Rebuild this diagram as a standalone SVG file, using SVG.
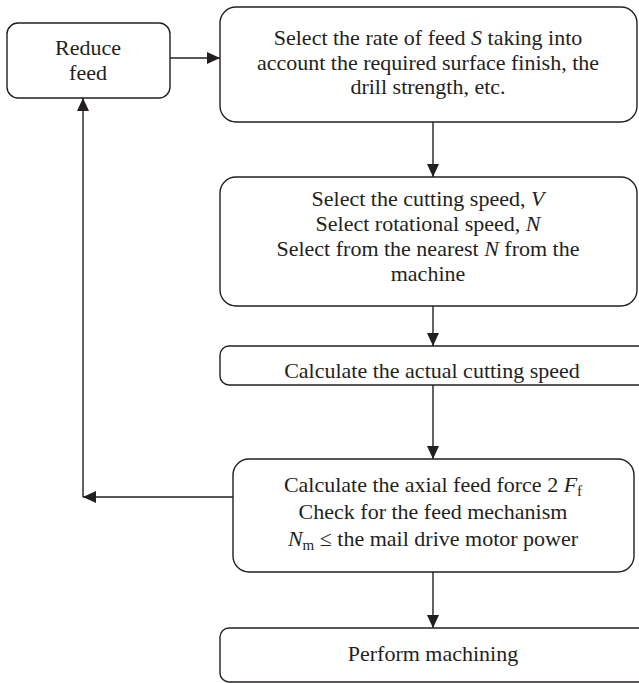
<svg xmlns="http://www.w3.org/2000/svg" width="639" height="683" viewBox="0 0 639 683">
<style>
.box{fill:#fff;stroke:#231f20;stroke-width:1.4}
.t{font-family:"Liberation Serif","Times New Roman",serif;font-size:22px;fill:#231f20;text-anchor:middle}
.i{font-style:italic}
.sub{font-size:15px}
.c{fill:none;stroke:#231f20;stroke-width:1.4}
</style>
<defs>
<marker id="ah" markerUnits="userSpaceOnUse" markerWidth="14" markerHeight="12" refX="13" refY="6" orient="auto">
<path d="M0,0 L13,6 L0,12 Z" fill="#231f20"/>
</marker>
</defs>
<rect width="639" height="683" fill="#fff"/>
<g id="reduce">
<rect class="box" x="7" y="23" width="163" height="75" rx="11"/>
<text class="t" x="88" y="55">Reduce</text>
<text class="t" x="88" y="80">feed</text>
</g>
<g id="select-feed">
<rect class="box" x="220" y="7" width="417" height="115" rx="16"/>
<text class="t" x="428" y="45">Select the rate of feed <tspan class="i">S</tspan> taking into</text>
<text class="t" x="428" y="70">account the required surface finish, the</text>
<text class="t" x="428" y="94">drill strength, etc.</text>
</g>
<g id="select-speed">
<rect class="box" x="220" y="177" width="417" height="129" rx="16"/>
<text class="t" x="428" y="206">Select the cutting speed, <tspan class="i">V</tspan></text>
<text class="t" x="428" y="231">Select rotational speed, <tspan class="i">N</tspan></text>
<text class="t" x="428" y="256">Select from the nearest <tspan class="i">N</tspan> from the</text>
<text class="t" x="428" y="281">machine</text>
</g>
<g id="actual-speed">
<rect class="box" x="220" y="346" width="430" height="39" rx="9"/>
<text class="t" x="432" y="378">Calculate the actual cutting speed</text>
</g>
<g id="axial-force">
<rect class="box" x="233" y="459" width="401" height="113" rx="16"/>
<text class="t" x="433" y="492">Calculate the axial feed force 2 <tspan class="i">F</tspan><tspan class="sub" dy="4">f</tspan></text>
<text class="t" x="433" y="519">Check for the feed mechanism</text>
<text class="t" x="433" y="546"><tspan class="i">N</tspan><tspan class="sub" dy="4">m</tspan><tspan dy="-4"> ≤ the mail drive motor power</tspan></text>
</g>
<g id="perform">
<rect class="box" x="220" y="628" width="430" height="54" rx="9"/>
<text class="t" x="433" y="661">Perform machining</text>
</g>
<g id="connectors">
<line class="c" x1="170" y1="58" x2="220" y2="58" marker-end="url(#ah)"/>
<line class="c" x1="433" y1="122" x2="433" y2="177" marker-end="url(#ah)"/>
<line class="c" x1="433" y1="306" x2="433" y2="346" marker-end="url(#ah)"/>
<line class="c" x1="433" y1="385" x2="433" y2="459" marker-end="url(#ah)"/>
<line class="c" x1="433" y1="572" x2="433" y2="628" marker-end="url(#ah)"/>
<line class="c" x1="233" y1="497" x2="83" y2="497" marker-end="url(#ah)"/>
<line class="c" x1="83" y1="497" x2="83" y2="98" marker-end="url(#ah)"/>
</g>
</svg>
